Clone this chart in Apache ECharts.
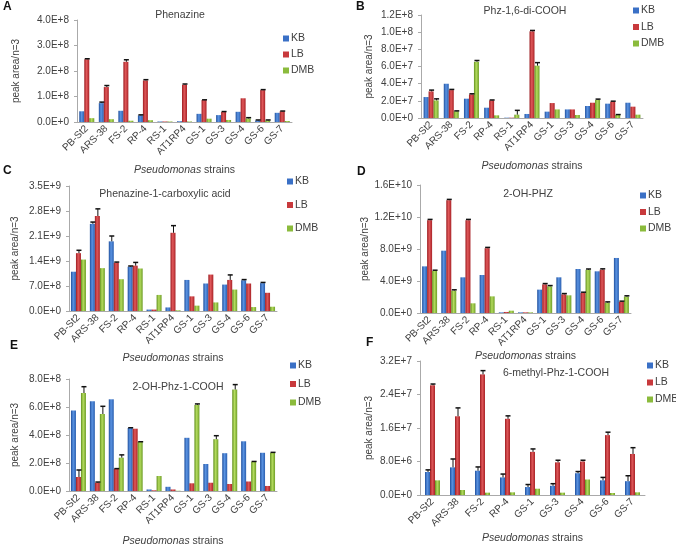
<!DOCTYPE html>
<html><head><meta charset="utf-8">
<script src="https://cdn.jsdelivr.net/npm/echarts@6/dist/echarts.min.js"></script>
<style>html,body{margin:0;padding:0;background:#fff}#c{width:676px;height:548px}</style>
</head><body><div id="c"></div>
<script>
// ---------- data ----------
const strains11 = ['PB-St2','ARS-38','FS-2','RP-4','RS-1','AT1RP4','GS-1','GS-3','GS-4','GS-6','GS-7'];
const strains9 = ['PB-St2','ARS-38','FS-2','RP-4','GS-1','GS-3','GS-4','GS-6','GS-7'];
const seriesNames = ['KB','LB','DMB'];

// Panel A: Phenazine (x 1E8)
const phzKB  = [0.42,0.74,0.44,0.26,0.02,0.03,0.32,0.27,0.40,0.06,0.36];
const phzLB  = [2.46,1.37,2.36,1.63,0.02,1.46,0.86,0.39,0.93,1.25,0.42];
const phzDMB = [0.15,0.11,0.05,0.07,0.02,0.02,0.13,0.08,0.14,0.06,0.04];
const phzErrKB  = [0,0.04,0,0.02,0,0,0,0,0,0.02,0];
const phzErrLB  = [0.02,0.06,0.08,0.03,0,0.03,0.01,0.02,0,0.02,0.01];
const phzErrDMB = [0,0,0,0,0,0,0,0,0.03,0.02,0];

// Panel B: Phz-1,6-di-COOH (x 1E7)
const dicKB  = [2.44,3.99,2.25,1.20,0.04,0.47,0.74,1.00,1.40,1.67,1.78];
const dicLB  = [3.10,3.25,2.75,2.05,0.04,10.10,1.74,1.00,1.78,1.90,1.32];
const dicDMB = [2.05,0.78,6.55,0.31,0.39,6.10,1.00,0.35,2.10,0.35,0.39];
const dicErrKB  = [0,0,0,0,0,0,0,0,0,0,0];
const dicErrLB  = [0.15,0.08,0.07,0.05,0,0.1,0,0,0,0.06,0];
const dicErrDMB = [0.18,0.05,0.15,0,0.5,0.35,0,0,0.1,0.05,0];

// Panel C: Phenazine-1-carboxylic acid (x 1E9)
const pcaKB  = [1.10,2.44,1.95,1.24,0.04,0.10,0.87,0.77,0.74,0.86,0.78];
const pcaLB  = [1.62,2.66,1.35,1.27,0.04,2.19,0.41,1.02,0.87,0.77,0.51];
const pcaDMB = [1.44,1.20,0.89,1.19,0.45,0.02,0.15,0.24,0.60,0.11,0.12];
const pcaErrKB  = [0,0.05,0.15,0.02,0,0,0,0,0,0.02,0.02];
const pcaErrLB  = [0.08,0.2,0.02,0.09,0,0.2,0,0,0.14,0,0];
const pcaErrDMB = [0,0,0,0,0,0,0,0,0,0,0];

// Panel D: 2-OH-PHZ (x 1E9)
const ohKB  = [5.83,7.79,4.46,4.75,0.08,0.08,2.92,4.46,5.50,5.21,6.88];
const ohLB  = [11.6,14.1,11.6,8.1,0.13,0.08,3.58,2.33,2.50,5.42,1.38];
const ohDMB = [5.25,2.80,1.21,2.08,0.29,0.08,3.33,2.21,5.40,1.29,2.05];
const ohErrKB  = [0,0,0,0,0,0,0,0,0,0,0];
const ohErrLB  = [0.1,0.1,0.1,0.1,0,0,0.1,0.1,0.1,0.1,0.1];
const ohErrDMB = [0.1,0.1,0,0,0,0,0.1,0,0.1,0.1,0.1];

// Panel E: 2-OH-Phz-1-COOH (x 1E8)
const ohcKB  = [5.75,6.41,6.55,4.50,0.11,0.30,3.80,1.93,2.70,3.55,2.73];
const ohcLB  = [1.00,0.59,1.57,4.45,0.05,0.11,0.55,0.59,0.50,0.68,0.36];
const ohcDMB = [7.00,5.50,2.38,3.50,1.07,0.02,6.15,3.70,7.25,2.09,2.73];
const ohcErrKB  = [0,0,0,0.02,0,0,0,0,0,0,0];
const ohcErrLB  = [0.5,0.05,0.03,0,0,0,0,0,0,0,0];
const ohcErrDMB = [0.45,0.55,0.2,0.02,0,0,0.07,0.25,0.35,0.02,0.03];

// Panel F: 6-methyl-Phz-1-COOH (x 1E6)
const meKB  = [5.5,6.6,5.8,4.2,1.9,2.2,5.2,3.5,3.3];
const meLB  = [26.2,18.8,28.8,18.2,10.3,7.8,8.0,14.3,9.8];
const meDMB = [3.5,1.2,0.56,0.64,1.5,0.56,3.7,0.48,0.64];
const meErrKB  = [0.5,2.0,0.9,0.8,0.6,0.5,0.4,0.7,1.3];
const meErrLB  = [0.3,2.0,0.9,0.7,0.7,0.5,0.3,0.7,1.5];
const meErrDMB = [0,0,0,0,0,0,0,0,0];

const panels = [
  {letter:'A', title:'Phenazine', cats:strains11, unit:1e8, max:4e8, interval:1e8,
   vals:[phzKB,phzLB,phzDMB], errs:[phzErrKB,phzErrLB,phzErrDMB],
   grid:{left:77, top:20, width:215, height:102}, letterPos:[3,1], titlePos:[175,5],
   legendPos:[283,33], legendGap:5, yNameGap:56, xNameGap:43},
  {letter:'B', title:'Phz-1,6-di-COOH', cats:strains11, unit:1e7, max:1.2e8, interval:2e7,
   vals:[dicKB,dicLB,dicDMB], errs:[dicErrKB,dicErrLB,dicErrDMB],
   grid:{left:421, top:15, width:222, height:103}, letterPos:[356,1], titlePos:[520,1],
   legendPos:[633,5], legendGap:5.5, yNameGap:47, xNameGap:43},
  {letter:'C', title:'Phenazine-1-carboxylic acid', cats:strains11, unit:1e9, max:3.5e9, interval:7e8,
   vals:[pcaKB,pcaLB,pcaDMB], errs:[pcaErrKB,pcaErrLB,pcaErrDMB],
   grid:{left:69, top:186, width:208, height:125}, letterPos:[3,165], titlePos:[160,184],
   legendPos:[287,176], legendGap:12.5, yNameGap:49, xNameGap:42},
  {letter:'D', title:'2-OH-PHZ', cats:strains11, unit:1e9, max:1.6e10, interval:4e9,
   vals:[ohKB,ohLB,ohDMB], errs:[ohErrKB,ohErrLB,ohErrDMB],
   grid:{left:420, top:185, width:211, height:128}, letterPos:[357,166], titlePos:[523,184],
   legendPos:[640,190], legendGap:5.5, yNameGap:48, xNameGap:34},
  {letter:'E', title:'2-OH-Phz-1-COOH', cats:strains11, unit:1e8, max:8e8, interval:2e8,
   vals:[ohcKB,ohcLB,ohcDMB], errs:[ohcErrKB,ohcErrLB,ohcErrDMB],
   grid:{left:69, top:379, width:208, height:117}, letterPos:[10,340], titlePos:[173,377],
   legendPos:[290,360], legendGap:7.5, yNameGap:49, xNameGap:45},
  {letter:'F', title:'6-methyl-Phz-1-COOH', cats:strains9, unit:1e6, max:3.2e7, interval:8e6,
   vals:[meKB,meLB,meDMB], errs:[meErrKB,meErrLB,meErrDMB],
   grid:{left:420, top:361, width:225, height:134}, letterPos:[366,337], titlePos:[551,363],
   legendPos:[647,360], legendGap:6, yNameGap:46, xNameGap:38}
];

// ---------- styling ----------
const FONT = '"Liberation Sans", Arial, sans-serif';
const TXT = '#404040';
function grad(c1,c2,c3){
  return new echarts.graphic.LinearGradient(0,0,1,0,[{offset:0,color:c1},{offset:0.45,color:c2},{offset:1,color:c3}]);
}
const colors = [
  grad('#1f4f9c','#5a93e2','#2a5fb0'),
  grad('#9c1c20','#e0585a','#a92226'),
  grad('#62901e','#b4dc5e','#6f9e27')
];
const legendColors = ['#3a70c6','#c8393c','#8bbb3c'];
function sci(v){
  if (Math.abs(v) < 1e-9) return '0.0E+0';
  const e = Math.floor(Math.log10(v) + 1e-9);
  const m = v / Math.pow(10, e);
  return m.toFixed(1) + 'E+' + e;
}

const BW = 5;
const option = {
  animation:false,
  backgroundColor:'#fff',
  textStyle:{fontFamily:FONT},
  title:[], grid:[], xAxis:[], yAxis:[], series:[], legend:[]
};

panels.forEach((p, k) => {
  option.title.push({text:p.letter, left:p.letterPos[0], top:p.letterPos[1], padding:0,
    textStyle:{fontSize:12, fontWeight:'bold', color:'#111', fontFamily:FONT}});
  option.title.push({text:p.title, left:p.titlePos[0], top:p.titlePos[1], textAlign:'center',
    textStyle:{fontSize:10.5, fontWeight:'normal', color:TXT, fontFamily:FONT}});
  option.grid.push(Object.assign({containLabel:false}, p.grid));
  option.xAxis.push({type:'category', gridIndex:k, data:p.cats,
    axisLine:{lineStyle:{color:'#aaaaaa'}}, axisTick:{show:false},
    axisLabel:{rotate:45, interval:0, fontSize:10, color:TXT, margin:5, fontFamily:FONT},
    name:'{i|Pseudomonas} strains', nameLocation:'middle', nameGap:p.xNameGap,
    nameTextStyle:{fontSize:10.5, color:TXT, fontFamily:FONT, rich:{i:{fontStyle:'italic', fontSize:10.5, color:TXT, fontFamily:FONT}}}
  });
  option.yAxis.push({type:'value', gridIndex:k, min:0, max:p.max, interval:p.interval,
    splitLine:{show:false},
    axisLine:{show:true, lineStyle:{color:'#aaaaaa'}}, axisTick:{show:true, length:3, lineStyle:{color:'#aaaaaa'}},
    axisLabel:{fontSize:10, color:TXT, margin:8, formatter:sci, fontFamily:FONT},
    name:'peak area/n=3', nameLocation:'middle', nameGap:p.yNameGap,
    nameTextStyle:{fontSize:10, color:TXT, fontFamily:FONT}
  });
  p.vals.forEach((arr, s) => {
    option.series.push({type:'bar', name:seriesNames[s], xAxisIndex:k, yAxisIndex:k,
      data:arr.map(v => v * p.unit), barWidth:BW, barGap:'0%',
      itemStyle:{color:colors[s]}});
  });
  const ebData = [];
  p.errs.forEach((earr, s) => {
    earr.forEach((e, i) => {
      if (e > 0) ebData.push([i, p.vals[s][i] * p.unit, e * p.unit, s - 1]);
    });
  });
  option.series.push({type:'custom', xAxisIndex:k, yAxisIndex:k, z:5, silent:true,
    data:ebData, encode:{x:0, y:1},
    renderItem:function(params, api){
      const i = api.value(0), v = api.value(1), e = api.value(2), off = api.value(3);
      const p0 = api.coord([i, v]);
      const p1 = api.coord([i, v + e]);
      const x = p0[0] + off * BW + 0.5;
      return {type:'group', children:[
        {type:'line', shape:{x1:x, y1:p0[1], x2:x, y2:p1[1]}, style:{stroke:'#111', lineWidth:1}},
        {type:'line', shape:{x1:x-2.5, y1:p1[1], x2:x+2.5, y2:p1[1]}, style:{stroke:'#111', lineWidth:1.5}}
      ]};
    }
  });
  option.legend.push({orient:'vertical', left:p.legendPos[0], top:p.legendPos[1], padding:0,
    data:seriesNames.map((n, s) => ({name:n, itemStyle:{color:legendColors[s]}})),
    icon:'rect', itemWidth:6, itemHeight:6, itemGap:p.legendGap, selectedMode:false,
    textStyle:{fontSize:10.5, color:TXT, fontFamily:FONT, padding:[0,0,0,-3]}});
});

const chart = echarts.init(document.getElementById('c'), null, {renderer:'canvas'});
chart.setOption(option);
</script>
</body></html>
